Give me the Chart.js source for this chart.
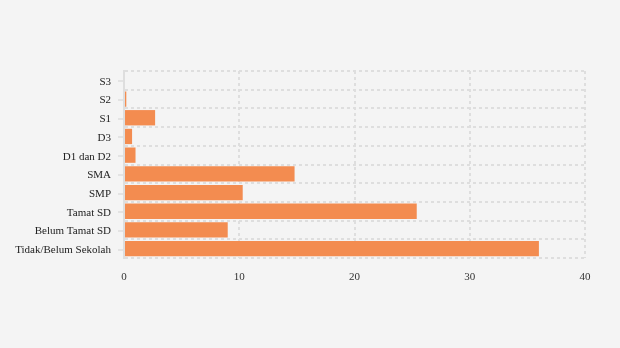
<!DOCTYPE html>
<html>
<head>
<meta charset="utf-8">
<script src="https://cdn.jsdelivr.net/npm/chart.js@4"></script>
<style>
  html, body { margin: 0; padding: 0; background: #f4f4f4; }
  canvas { display: block; }
</style>
</head>
<body>
<canvas id="pendidikanChart" width="620" height="348"></canvas>
<script>
"use strict";
const BAR_ORANGE = "rgb(243,140,80)";
const GRID_GREY = "rgb(222,222,222)";

const categories = [
  "S3",
  "S2",
  "S1",
  "D3",
  "D1 dan D2",
  "SMA",
  "SMP",
  "Tamat SD",
  "Belum Tamat SD",
  "Tidak/Belum Sekolah",
];
const values = [0, 0.2, 2.7, 0.7, 1.0, 14.8, 10.3, 25.4, 9.0, 36.0];
const xTicks = [0, 10, 20, 30, 40];

// little tick marks next to each category label
const labelTicks = {
  id: "labelTicks",
  afterDraw(chart) {
    const y = chart.scales.y;
    const ctx = chart.ctx;
    ctx.save();
    ctx.strokeStyle = GRID_GREY;
    ctx.lineWidth = 1.5;
    categories.forEach((c, i) => {
      const py = Math.round(y.getPixelForTick(i)) + 1;
      ctx.beginPath();
      ctx.moveTo(y.right - 6, py);
      ctx.lineTo(y.right - 1, py);
      ctx.stroke();
    });
    ctx.restore();
  },
};

const ctx = document.getElementById("pendidikanChart").getContext("2d");
const myChart = new Chart(ctx, {
  type: "bar",
  data: {
    labels: categories,
    datasets: [
      {
        data: values,
        backgroundColor: BAR_ORANGE,
        borderWidth: 0,
        categoryPercentage: 0.82,
        barPercentage: 1,
      },
    ],
  },
  options: {
    indexAxis: "y",
    responsive: false,
    animation: false,
    layout: { padding: { top: 71, right: 35, left: 0, bottom: 0 } },
    plugins: { legend: { display: false }, tooltip: { enabled: false } },
    scales: {
      x: {
        min: 0,
        max: 40,
        afterBuildTicks: (scale) => {
          scale.ticks = xTicks.map((v) => ({ value: v }));
        },
        afterFit: (scale) => {
          scale.height = 348 - 258;
        },
        grid: { color: GRID_GREY, lineWidth: 2, drawTicks: false },
        border: { display: false, dash: [3, 3] },
        ticks: {
          padding: 13,
          color: "#333",
          font: { family: "Liberation Serif", size: 11 },
        },
      },
      y: {
        afterFit: (scale) => {
          scale.width = 124;
        },
        grid: { color: GRID_GREY, lineWidth: 2, drawTicks: false, offset: true },
        border: { display: true, color: GRID_GREY, width: 2, dash: [3, 3] },
        ticks: {
          padding: 13,
          labelOffset: 1.5,
          color: "#222",
          font: { family: "Liberation Serif", size: 11 },
        },
      },
    },
  },
  plugins: [labelTicks],
});
</script>
</body>
</html>
